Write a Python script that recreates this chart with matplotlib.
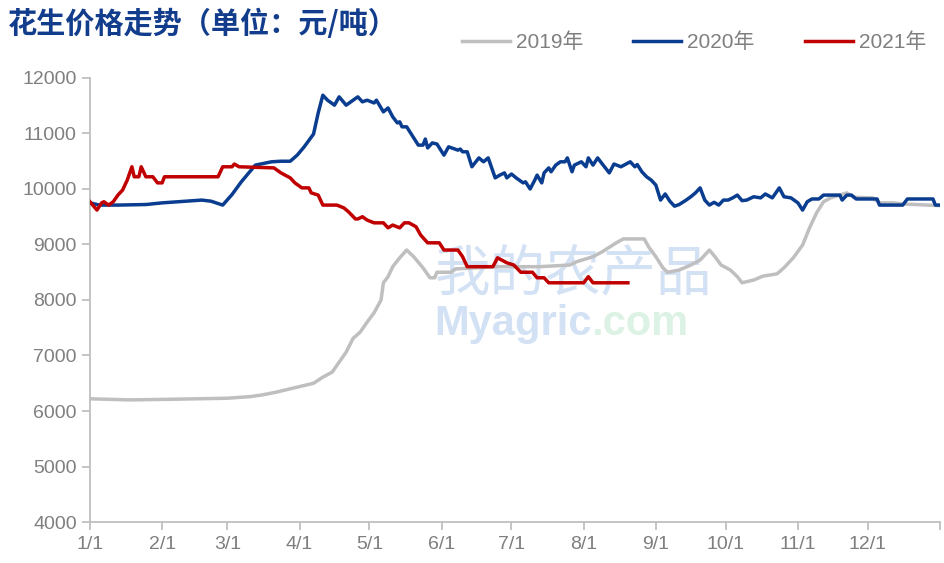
import matplotlib.pyplot as plt

plt.rcParams['font.family'] = ['Liberation Sans', 'Noto Sans CJK SC', 'DejaVu Sans']

# day of year (0 = 1/1) and price
days_2019 = [0, 17, 33, 59, 69, 74, 80, 87, 91, 96, 100, 104, 107, 110, 113, 116,
             119, 122, 125, 126, 128, 130, 133, 136, 139, 143, 146, 148, 149, 155,
             157, 175, 193, 206, 209, 216, 220, 223, 226, 229, 238, 240, 243, 246,
             248, 253, 258, 262, 266, 268, 271, 275, 278, 280, 285, 289, 295, 298,
             302, 306, 309, 312, 315, 318, 325, 328, 336, 339, 345, 349, 365]
price_2019 = [6220, 6200, 6210, 6230, 6260, 6290, 6340, 6410, 6450, 6500, 6610, 6700,
              6880, 7060, 7310, 7420, 7600, 7770, 8000, 8310, 8420, 8600, 8760, 8900,
              8780, 8580, 8400, 8400, 8500, 8500, 8560, 8600, 8600, 8630, 8690, 8780,
              8870, 8950, 9030, 9100, 9100, 8950, 8780, 8580, 8500, 8540, 8630, 8720,
              8900, 8800, 8630, 8540, 8420, 8310, 8360, 8430, 8470, 8580, 8760, 8990,
              9300, 9570, 9770, 9840, 9930, 9850, 9840, 9750, 9750, 9730, 9700]

days_2020 = [0, 4, 12, 24, 31, 48, 52, 57, 61, 65, 71, 78, 82, 86, 89, 92, 96, 98,
             100, 102, 105, 107, 110, 115, 117, 119, 122, 123, 126, 128, 130, 132,
             133, 134, 136, 139, 141, 143, 144, 145, 147, 149, 152, 154, 158, 159,
             160, 162, 164, 167, 169, 171, 174, 176, 178, 179, 181, 183, 186, 187,
             189, 191, 192, 194, 195, 197, 198, 200, 202, 204, 205, 207, 208, 211,
             213, 214, 216, 218, 220, 223, 225, 228, 232, 234, 235, 237, 239, 241,
             243, 245, 247, 249, 251, 253, 256, 258, 260, 262, 264, 266, 268, 270,
             272, 274, 276, 278, 280, 282, 285, 288, 290, 293, 296, 298, 301, 304,
             306, 308, 310, 313, 315, 322, 323, 325, 327, 329, 338, 339, 349, 351,
             362, 363, 365]
price_2020 = [9750, 9710, 9710, 9720, 9750, 9800, 9780, 9710, 9900, 10130, 10430,
              10490, 10500, 10500, 10610, 10760, 10990, 11370, 11690, 11600, 11510,
              11660, 11510, 11660, 11570, 11600, 11550, 11600, 11390, 11460, 11300,
              11190, 11210, 11120, 11120, 10920, 10790, 10790, 10900, 10740, 10830,
              10810, 10610, 10760, 10700, 10720, 10670, 10670, 10400, 10560, 10490,
              10560, 10200, 10250, 10290, 10200, 10270, 10200, 10110, 10130, 10000,
              10160, 10250, 10110, 10290, 10380, 10310, 10430, 10490, 10490, 10560,
              10310, 10430, 10490, 10400, 10560, 10430, 10560, 10450, 10290, 10450,
              10400, 10490, 10400, 10440, 10310, 10220, 10160, 10070, 9800, 9910,
              9780, 9690, 9720, 9800, 9860, 9930, 10020, 9800, 9710, 9760, 9710,
              9800, 9800, 9840, 9890, 9790, 9800, 9860, 9840, 9910, 9840, 10020,
              9860, 9840, 9750, 9620, 9770, 9820, 9820, 9890, 9890, 9800, 9890,
              9890, 9820, 9820, 9710, 9710, 9820, 9820, 9710, 9710]

days_2021 = [0, 3, 5, 6, 8, 10, 12, 14, 16, 18, 19, 21, 22, 24, 27, 29, 31, 32, 55,
             57, 61, 62, 64, 79, 82, 86, 88, 91, 94, 95, 98, 100, 106, 109, 111, 114,
             115, 117, 119, 122, 126, 128, 130, 133, 135, 137, 140, 142, 145, 150,
             152, 158, 160, 162, 173, 175, 179, 182, 185, 190, 192, 195, 197, 212,
             214, 216, 231]
price_2021 = [9770, 9620, 9750, 9770, 9710, 9770, 9890, 9980, 10160, 10400, 10220,
              10220, 10400, 10220, 10220, 10110, 10110, 10220, 10220, 10400, 10400,
              10450, 10400, 10380, 10290, 10200, 10110, 10020, 10020, 9930, 9890,
              9710, 9710, 9660, 9590, 9460, 9460, 9500, 9440, 9390, 9390, 9300, 9350,
              9300, 9390, 9390, 9320, 9170, 9030, 9030, 8900, 8900, 8780, 8600, 8600,
              8760, 8670, 8630, 8500, 8500, 8400, 8400, 8310, 8310, 8420, 8310, 8310]

month_days = [0, 31, 59, 90, 120, 151, 181, 212, 243, 273, 304, 334]
month_labels = ['1/1', '2/1', '3/1', '4/1', '5/1', '6/1', '7/1', '8/1', '9/1',
                '10/1', '11/1', '12/1']
y_ticks = [4000, 5000, 6000, 7000, 8000, 9000, 10000, 11000, 12000]

fig = plt.figure(figsize=(9.45, 5.63), dpi=100)
ax = fig.add_axes([0.0952, 0.0728, 0.8995, 0.7887])

# faint site watermark, kept under the lines
ax.text(0.46, 0.485, '我的农产品', fontsize=40, color='#d3e1f5',
        family=['Noto Sans CJK SC'], transform=fig.transFigure, zorder=1)
ax.text(0.46, 0.405, 'Myagric', fontsize=30, color='#d3e1f5',
        fontweight='bold', transform=fig.transFigure, zorder=1)
ax.text(0.626, 0.405, '.com', fontsize=30, color='#dcf2e4',
        fontweight='bold', transform=fig.transFigure, zorder=1)

ax.plot(days_2019, price_2019, color='#bfbfbf', lw=2.5, label='2019年', zorder=2)
ax.plot(days_2020, price_2020, color='#0a3d8f', lw=2.5, label='2020年', zorder=3)
ax.plot(days_2021, price_2021, color='#c00000', lw=2.5, label='2021年', zorder=4)

ax.set_xlim(0, 365)
ax.set_ylim(4000, 12000)
ax.set_xticks(month_days + [365])
ax.set_xticklabels(month_labels + [''])
ax.set_yticks(y_ticks)

for side in ['top', 'right']:
    ax.spines[side].set_visible(False)
for side in ['left', 'bottom']:
    ax.spines[side].set_color('#bfbfbf')
    ax.spines[side].set_linewidth(1.3)
ax.tick_params(axis='both', colors='#bfbfbf', length=6, width=1.3,
               labelcolor='#7f7f7f', labelsize=14)
ax.tick_params(axis='x', pad=4)

fig.text(0.008, 0.957, '花生价格走势（单位：元/吨）', fontsize=21, fontweight='bold',
         color='#123c8c', family=['Noto Sans CJK SC'], va='center')

fig.legend(loc='center right', bbox_to_anchor=(1.0, 0.925), ncol=3, frameon=False,
           fontsize=15, labelcolor='#7f7f7f', handlelength=2.3, handletextpad=0.3,
           columnspacing=2.4)

fig.savefig('out.png', dpi=100)
